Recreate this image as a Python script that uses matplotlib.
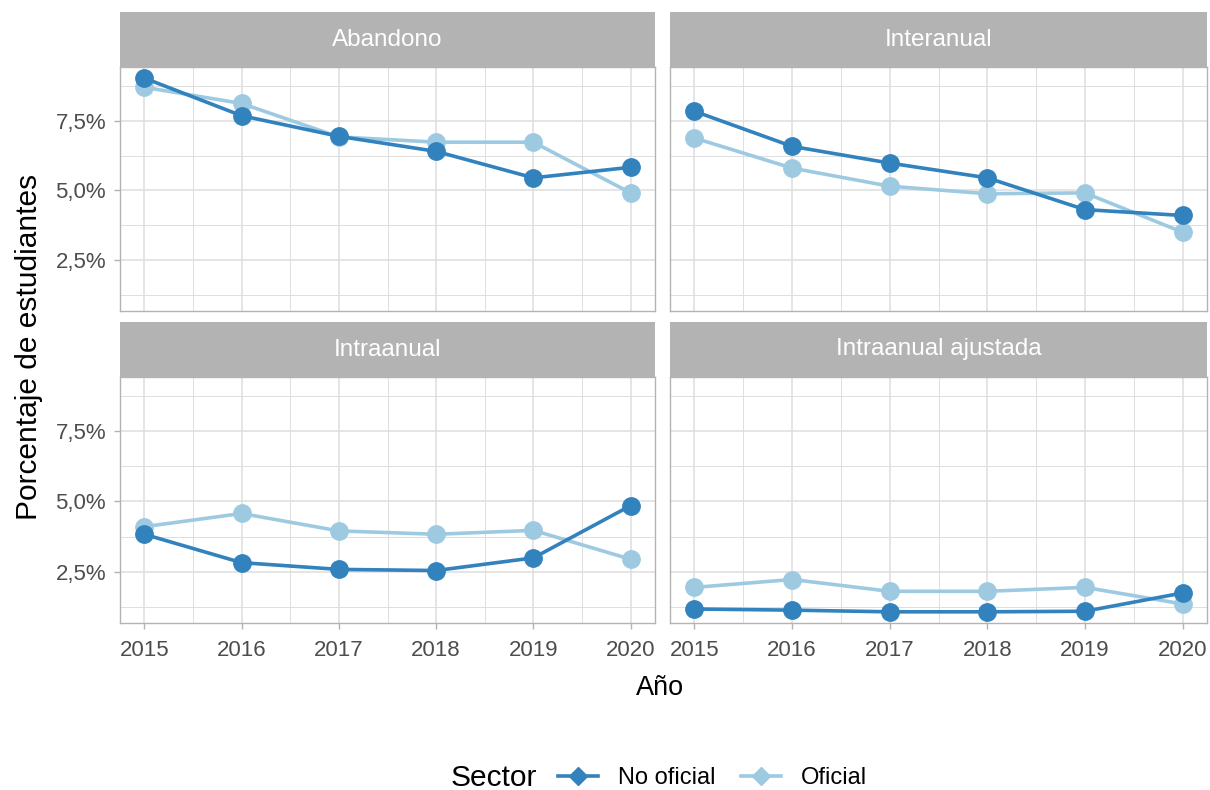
import numpy as np
import matplotlib
matplotlib.use("Agg")
import matplotlib.pyplot as plt
from matplotlib.lines import Line2D
from matplotlib.ticker import FixedLocator, FuncFormatter

plt.rcParams['font.family'] = ['Liberation Sans', 'DejaVu Sans']

# Data (percent of students)
years = [2015, 2016, 2017, 2018, 2019, 2020]
panels = ["Abandono", "Interanual", "Intraanual", "Intraanual ajustada"]
no_oficial = {
    "Abandono":            [9.03, 7.68, 6.94, 6.40, 5.45, 5.83],
    "Interanual":          [7.84, 6.58, 5.98, 5.45, 4.31, 4.10],
    "Intraanual":          [3.83, 2.82, 2.58, 2.54, 2.99, 4.85],
    "Intraanual ajustada": [1.17, 1.13, 1.07, 1.07, 1.09, 1.74],
}
oficial = {
    "Abandono":            [8.70, 8.12, 6.92, 6.73, 6.73, 4.91],
    "Interanual":          [6.88, 5.80, 5.15, 4.88, 4.91, 3.50],
    "Intraanual":          [4.10, 4.57, 3.95, 3.83, 3.97, 2.94],
    "Intraanual ajustada": [1.94, 2.22, 1.80, 1.80, 1.94, 1.35],
}
series_names = ["No oficial", "Oficial"]
colors = {"No oficial": "#3182BD", "Oficial": "#9ECAE1"}

W, H = 1210, 790
fig = plt.figure(figsize=(W / 100, H / 100), dpi=100)

# panel boxes in pixels
cols = [(120, 655), (670, 1207)]
rows = [(67, 311, 12), (377, 623, 322)]

all_vals = np.concatenate([np.array(v) for d in (no_oficial, oficial) for v in d.values()])
lo, hi = all_vals.min(), all_vals.max()
pad = (hi - lo) * 0.05
ylim = (lo - pad, hi + pad)
xlim = (years[0] - 0.25, years[-1] + 0.25)

border = "#B3B3B3"
grid = "#DEDEDE"

for i, name in enumerate(panels):
    r, c = divmod(i, 2)
    x0, x1 = cols[c]
    top, bot, stop = rows[r]
    ax = fig.add_axes([x0 / W, 1 - bot / H, (x1 - x0) / W, (bot - top) / H])
    sax = fig.add_axes([x0 / W, 1 - top / H, (x1 - x0) / W, (top - stop) / H])
    sax.set_facecolor(border)
    sax.set_xticks([]); sax.set_yticks([])
    for s in sax.spines.values():
        s.set_visible(False)
    sax.text(0.5, 0.5, name, color="white", fontsize=17.5, ha="center", va="center",
             transform=sax.transAxes)

    for sname, d in (("Oficial", oficial), ("No oficial", no_oficial)):
        ax.plot(years, d[name], color=colors[sname], lw=2.6, marker="o", ms=12.5,
                zorder=3 if sname == "No oficial" else 2)

    ax.set_xlim(*xlim)
    ax.set_ylim(*ylim)
    ax.xaxis.set_major_locator(FixedLocator(years))
    ax.xaxis.set_minor_locator(FixedLocator([y + 0.5 for y in years[:-1]]))
    ax.yaxis.set_major_locator(FixedLocator([2.5, 5.0, 7.5]))
    ax.yaxis.set_minor_locator(FixedLocator([1.25, 3.75, 6.25, 8.75]))
    ax.grid(which="major", color=grid, lw=1.1, zorder=0)
    ax.grid(which="minor", color=grid, lw=0.7, zorder=0)
    ax.set_axisbelow(True)
    for s in ax.spines.values():
        s.set_color(border)
        s.set_linewidth(1.0)
    ax.tick_params(which="major", color=border, length=4, width=1, labelsize=16,
                   labelcolor="#4D4D4D")
    ax.tick_params(axis="x", which="major", pad=8.5)
    ax.tick_params(axis="y", which="major", pad=6)
    ax.tick_params(which="minor", length=0)

    if c == 0:
        ax.yaxis.set_major_formatter(FuncFormatter(lambda v, p: f"{v:.1f}%".replace(".", ",")))
    else:
        ax.tick_params(axis="y", which="major", length=0, labelleft=False)
    if r == 0:
        ax.tick_params(axis="x", which="major", length=0, labelbottom=False)
    else:
        ax.set_xticklabels([str(y) for y in years])

fig.text(660 / W, 1 - 688 / H, "Año", fontsize=19.5, ha="center", va="center", color="black")
fig.text(29 / W, 1 - 347 / H, "Porcentaje de estudiantes", fontsize=21.5, rotation=90,
         ha="center", va="center", color="black")

# legend
fig.text(451 / W, 1 - 778 / H, "Sector", fontsize=21.5, ha="left", va="center")
handles = [Line2D([], [], color=colors[s], lw=2.6, marker="D", ms=9) for s in series_names]
fig.legend(handles, series_names, ncol=2, loc="center left", bbox_to_anchor=(558 / W, 1 - 778 / H),
           frameon=False, fontsize=17, handlelength=1.7, handletextpad=0.85, columnspacing=1.05,
           borderaxespad=0, borderpad=0)

fig.savefig("out.png", dpi=100, facecolor="white")
